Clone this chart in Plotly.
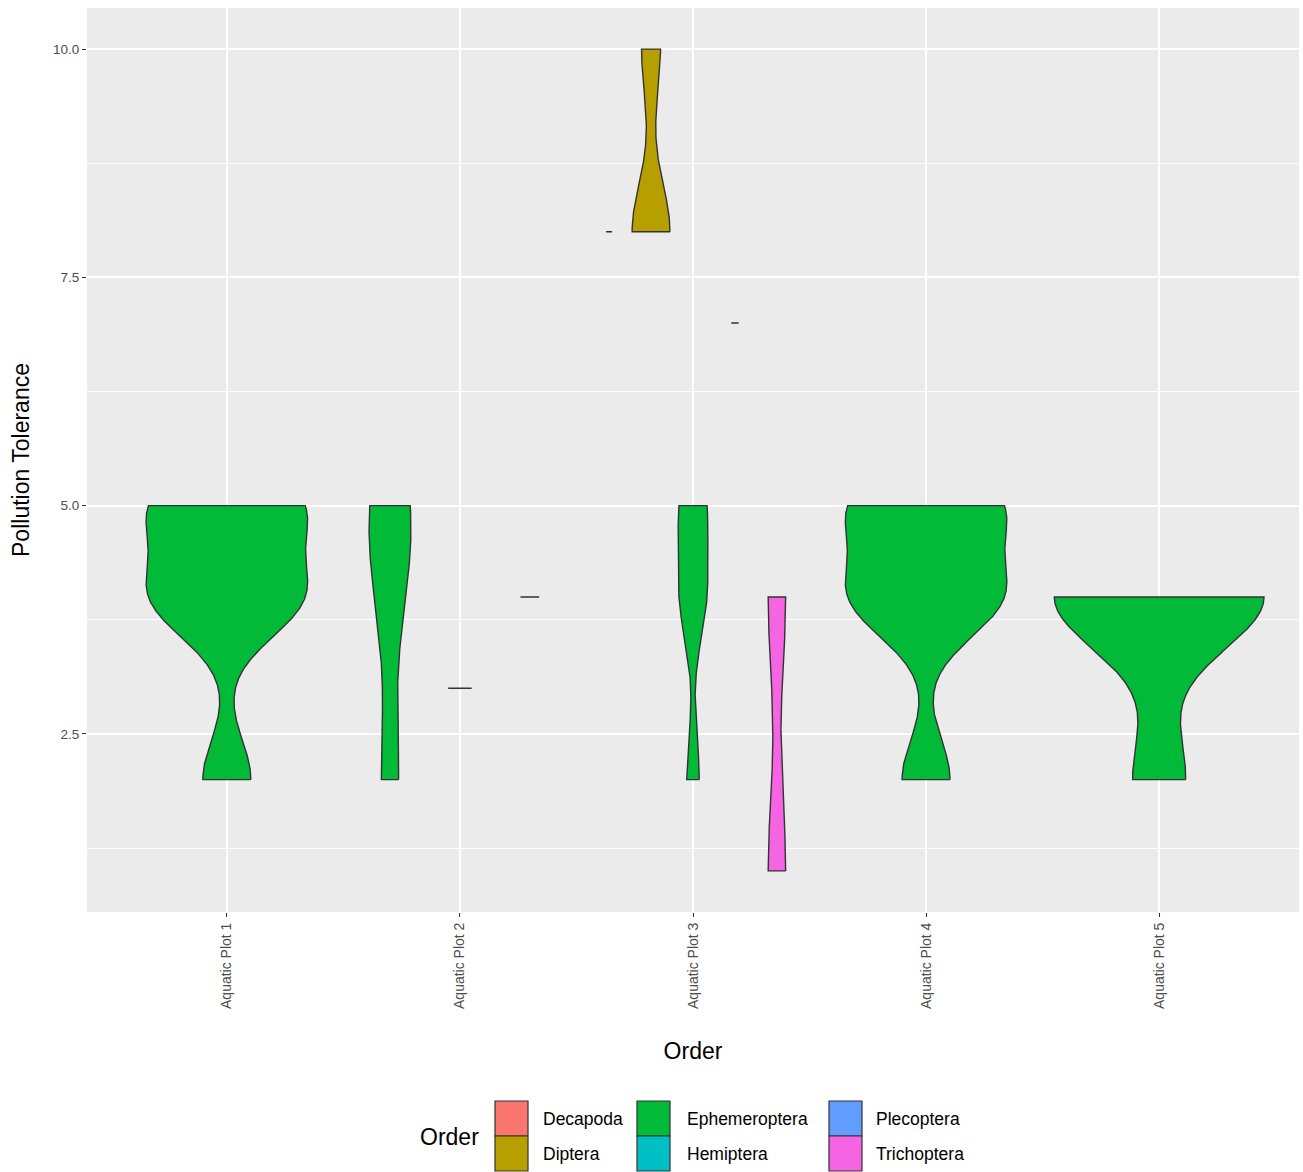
import numpy as np
import plotly.graph_objects as go

# Categories
plots = ["Aquatic Plot 1", "Aquatic Plot 2", "Aquatic Plot 3", "Aquatic Plot 4", "Aquatic Plot 5"]
orders = ["Decapoda", "Diptera", "Ephemeroptera", "Hemiptera", "Plecoptera", "Trichoptera"]
order_colors = ["#F8766D", "#B79F00", "#00BA38", "#00BFC4", "#619CFF", "#F564E3"]

# Pollution tolerance scores of the specimens, per plot and order
plot1_ephemeroptera = [2, 4, 4, 4, 5, 5, 5]
plot2_ephemeroptera = [2, 4, 5, 5]
plot2_hemiptera = [3, 3, 3]
plot2_plecoptera = [4, 4, 4, 4]
plot3_decapoda = [8, 8, 8, 8, 8, 8]
plot3_diptera = [8, 8, 10]
plot3_ephemeroptera = [2, 4, 4, 5, 5]
plot3_hemiptera = [7, 7, 7, 7, 7, 7, 7, 7]
plot3_trichoptera = [1, 4]
plot4_ephemeroptera = [2, 4, 4, 4, 5, 5, 5]
plot5_ephemeroptera = [2, 4, 4, 4, 4]

groups = [
    ("Aquatic Plot 1", "Ephemeroptera", plot1_ephemeroptera),
    ("Aquatic Plot 2", "Ephemeroptera", plot2_ephemeroptera),
    ("Aquatic Plot 2", "Hemiptera", plot2_hemiptera),
    ("Aquatic Plot 2", "Plecoptera", plot2_plecoptera),
    ("Aquatic Plot 3", "Decapoda", plot3_decapoda),
    ("Aquatic Plot 3", "Diptera", plot3_diptera),
    ("Aquatic Plot 3", "Ephemeroptera", plot3_ephemeroptera),
    ("Aquatic Plot 3", "Hemiptera", plot3_hemiptera),
    ("Aquatic Plot 3", "Trichoptera", plot3_trichoptera),
    ("Aquatic Plot 4", "Ephemeroptera", plot4_ephemeroptera),
    ("Aquatic Plot 5", "Ephemeroptera", plot5_ephemeroptera),
]


def bw_nrd0(x):
    """Silverman's rule of thumb, as in R's bw.nrd0."""
    x = np.asarray(x, dtype=float)
    hi = x.std(ddof=1)
    q1, q3 = np.percentile(x, [25, 75])
    lo = min(hi, (q3 - q1) / 1.34)
    if not lo:
        lo = hi or abs(x[0]) or 1.0
    return 0.9 * lo * len(x) ** -0.2


def trimmed_kde(x, n=512):
    x = np.asarray(x, dtype=float)
    bw = bw_nrd0(x)
    grid = np.linspace(x.min(), x.max(), n)
    z = (grid[:, None] - x[None, :]) / bw
    dens = np.exp(-0.5 * z ** 2).sum(axis=1) / (len(x) * bw * np.sqrt(2 * np.pi))
    return grid, dens


kdes = [trimmed_kde(v) for _, _, v in groups]
max_density = max(d.max() for _, d in kdes)  # equal-area scaling across all violins

fig = go.Figure()
dodge_width = 0.9
for (plot, order, _), (grid, dens) in zip(groups, kdes):
    members = [o for p, o, _ in groups if p == plot]
    k = len(members)
    j = sorted(members, key=orders.index).index(order)
    slot = dodge_width / k
    centre = plots.index(plot) + 1 - dodge_width / 2 + slot * (j + 0.5)
    half = 0.5 * slot * dens / max_density
    xs = np.concatenate([centre + half, (centre - half)[::-1], [centre + half[0]]])
    ys = np.concatenate([grid, grid[::-1], [grid[0]]])
    fig.add_trace(go.Scatter(
        x=xs, y=ys, mode="lines", fill="toself",
        fillcolor=order_colors[orders.index(order)],
        line=dict(color="#333333", width=1.4),
        name=order, showlegend=False, hoveron="fills",
    ))

# Plot area in pixels: x 87..1299, y 8..912
W, H = 1303, 1172
L, R, T, B = 87, 4, 8, 260
pw, ph = W - L - R, H - T - B


def fx(px):
    return (px - L) / pw


def fy(py):
    return (H - B - py) / ph


font_family = "Liberation Sans, Arial, sans-serif"

# Legend: two rows by three columns of keys, filled column by column
shapes = []
annotations = []
col_key_x = [495, 637, 829]
col_text_x = [541, 685, 874]
row_top = [1101, 1136]
key_w, key_h = 33, 35
for i, (order, colour) in enumerate(zip(orders, order_colors)):
    c, r = divmod(i, 2)
    x0 = col_key_x[c]
    y0 = row_top[r]
    shapes.append(dict(
        type="rect", xref="paper", yref="paper",
        x0=fx(x0), x1=fx(x0 + key_w), y0=fy(y0 + key_h), y1=fy(y0),
        fillcolor=colour, line=dict(color="#333333", width=1.2), layer="above",
    ))
    annotations.append(dict(
        xref="paper", yref="paper", x=fx(col_text_x[c]), y=fy(y0 + key_h / 2),
        text=order, showarrow=False, xanchor="left", yanchor="middle",
        font=dict(size=17.5, color="black", family=font_family),
    ))
annotations.append(dict(
    xref="paper", yref="paper", x=fx(418), y=fy(1137),
    text="Order", showarrow=False, xanchor="left", yanchor="middle",
    font=dict(size=23, color="black", family=font_family),
))

fig.update_layout(
    width=W, height=H,
    margin=dict(l=L, r=R, t=T, b=B),
    plot_bgcolor="#EBEBEB", paper_bgcolor="white",
    showlegend=False,
    font=dict(family=font_family),
    shapes=shapes, annotations=annotations,
    xaxis=dict(
        range=[0.4, 5.6], tickvals=[1, 2, 3, 4, 5], ticktext=plots,
        tickangle=-90, showgrid=True, gridcolor="white", gridwidth=1.9,
        zeroline=False, showline=False,
        ticks="outside", ticklen=4, tickcolor="#333333", tickwidth=1,
        tickfont=dict(size=14, color="#4D4D4D"),
        title=dict(text="Order", font=dict(size=23, color="black"), standoff=34),
    ),
    yaxis=dict(
        range=[0.55, 10.45], tickvals=[2.5, 5, 7.5, 10],
        ticktext=["2.5", "5.0", "7.5", "10.0"],
        showgrid=True, gridcolor="white", gridwidth=1.9,
        zeroline=False, showline=False,
        ticks="outside", ticklen=4, tickcolor="#333333", tickwidth=1,
        tickfont=dict(size=13.5, color="#4D4D4D"),
        minor=dict(tickvals=[1.25, 3.75, 6.25, 8.75], showgrid=True,
                   gridcolor="white", gridwidth=0.9, ticks=""),
        title=dict(text="Pollution Tolerance", font=dict(size=23, color="black"), standoff=16),
    ),
)

fig.write_html("out.html")
